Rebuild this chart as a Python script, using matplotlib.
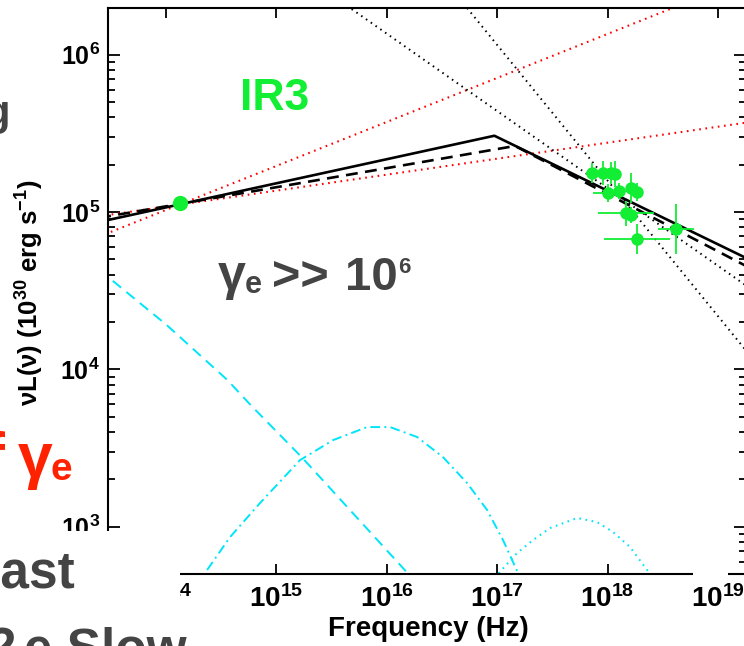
import numpy as np
import matplotlib.pyplot as plt
from matplotlib.patches import Rectangle
from matplotlib.ticker import LogLocator, NullLocator, NullFormatter

plt.rcParams['font.family'] = 'Liberation Sans'
plt.rcParams['font.weight'] = 'bold'
plt.rcParams['mathtext.fontset'] = 'custom'
plt.rcParams['mathtext.rm'] = 'Liberation Sans:bold'
plt.rcParams['mathtext.it'] = 'Liberation Sans:bold'
plt.rcParams['mathtext.bf'] = 'Liberation Sans:bold'
plt.rcParams['mathtext.default'] = 'rm'

# --- modelos (log10 nu [Hz], log10 nuLnu [1e30 erg/s]) ---
solid_lognu = [13.40, 16.976, 19.30]
solid_logL = [4.937, 5.485, 4.692]

dashed_lognu = [13.40, 17.163, 19.30]
dashed_logL = [4.963, 5.420, 4.640]

red_flat_lognu = [13.40, 19.30]
red_flat_logL = [4.973, 5.573]
red_steep_lognu = [13.40, 19.30]
red_steep_logL = [4.844, 6.496]

blk_dot1_lognu = [15.50, 19.30]
blk_dot1_logL = [6.381, 4.510]
blk_dot2_lognu = [16.60, 19.30]
blk_dot2_logL = [6.408, 4.079]

cyan_dash_lognu = [13.40, 13.48, 14.01, 14.56, 14.77, 15.24, 15.70, 16.19, 16.30]
cyan_dash_logL = [4.633, 4.587, 4.282, 3.932, 3.773, 3.436, 3.082, 2.705, 2.617]

cyan_dashdot_lognu = [14.27, 14.357, 14.584, 14.855, 15.217, 15.516, 15.824, 16.032,
                      16.276, 16.511, 16.729, 16.910, 17.054, 17.190, 17.25]
cyan_dashdot_logL = [2.62, 2.705, 2.934, 3.150, 3.423, 3.550, 3.633, 3.633,
                     3.570, 3.442, 3.277, 3.106, 2.915, 2.705, 2.61]

cyan_dot_lognu = [16.90, 17.009, 17.181, 17.326, 17.480, 17.724, 17.905, 18.050, 18.204, 18.385, 18.48]
cyan_dot_logL = [2.615, 2.699, 2.832, 2.915, 2.991, 3.055, 3.029, 2.966, 2.870, 2.699, 2.61]

# --- dados IR3 ---
ir_lognu = [14.131]
ir_logL = [5.057]

xr_lognu = [17.857, 17.962, 18.029, 18.068, 18.107, 18.007, 18.213, 18.264, 18.167, 18.210, 18.264, 18.620]
xr_logL = [5.250, 5.250, 5.246, 5.242, 5.135, 5.123, 5.151, 5.129, 4.992, 4.981, 4.826, 4.892]
xr_dnu = [0.05, 0.06, 0.06, 0.05, 0.08, 0.136, 0.05, 0.05, 0.25, 0.06, 0.30, 0.16]
xr_dL = [0.064, 0.076, 0.07, 0.08, 0.05, 0.058, 0.095, 0.058, 0.08, 0.05, 0.095, 0.16]

W, H = 744, 646
verde = '#11EE33'
ciano = '#00E5FA'
cinza = '#444444'
vermelho = '#FF2200'

fig = plt.figure(figsize=(W / 100, H / 100), dpi=100)
ax = fig.add_axes([108.3 / W, 1 - 574 / H, (746 - 108.3) / W, (574 - 8) / H])


def p(lognu, logL):
    return 10 ** np.asarray(lognu), 10 ** np.asarray(logL)


pontilhado = (0, (0.8, 2.2))

ax.plot(*p(cyan_dash_lognu, cyan_dash_logL), color=ciano, lw=1.4, ls=(0, (5.5, 3.5)))
ax.plot(*p(cyan_dashdot_lognu, cyan_dashdot_logL), color=ciano, lw=1.4, ls=(0, (5, 2.2, 1, 2.2)))
ax.plot(*p(cyan_dot_lognu, cyan_dot_logL), color=ciano, lw=1.5, ls=pontilhado)

ax.plot(*p(red_flat_lognu, red_flat_logL), color='red', lw=1.5, ls=pontilhado)
ax.plot(*p(red_steep_lognu, red_steep_logL), color='red', lw=1.5, ls=pontilhado)
ax.plot(*p(blk_dot1_lognu, blk_dot1_logL), color='black', lw=1.4, ls=pontilhado)
ax.plot(*p(blk_dot2_lognu, blk_dot2_logL), color='black', lw=1.4, ls=pontilhado)

ax.plot(*p(dashed_lognu, dashed_logL), color='black', lw=1.9, ls=(0, (4.5, 2.8)))
ax.plot(*p(solid_lognu, solid_logL), color='black', lw=1.9)

# barras de erro em dex -> convertidas pra escala linear
xn, yl = p(xr_lognu, xr_logL)
dn = np.asarray(xr_dnu)
dl = np.asarray(xr_dL)
xerr = [xn - xn / 10 ** dn, xn * 10 ** dn - xn]
yerr = [yl - yl / 10 ** dl, yl * 10 ** dl - yl]
ax.errorbar(xn, yl, xerr=xerr, yerr=yerr, fmt='o', color=verde, ms=8,
            elinewidth=1.3, capsize=0, mec=verde)
ax.plot(*p(ir_lognu, ir_logL), 'o', color=verde, ms=10)

ax.set_xscale('log')
ax.set_yscale('log')
ax.set_xlim(10 ** 13.482, 10 ** 19.253)
ax.set_ylim(10 ** 2.699, 10 ** 6.297)

ax.xaxis.set_major_locator(LogLocator(base=10, numticks=20))
ax.xaxis.set_minor_locator(NullLocator())
ax.yaxis.set_major_locator(LogLocator(base=10, numticks=20))
ax.yaxis.set_minor_locator(LogLocator(base=10, subs=np.arange(2, 10), numticks=20))
ax.yaxis.set_minor_formatter(NullFormatter())

ax.tick_params(which='both', direction='in', top=True, right=True, width=1.3, colors='black')
ax.tick_params(axis='x', which='major', length=7.2, labelsize=20, pad=8)
ax.tick_params(axis='y', which='major', length=8.6, labelsize=18, pad=6)
ax.tick_params(axis='y', which='minor', length=5)
for s in ax.spines.values():
    s.set_linewidth(1.5)

ax.set_xlabel('Frequency (Hz)', fontsize=20, fontweight='bold')
ax.xaxis.set_label_coords((428 - 108.3) / 637.7, (574 - 616) / 566)
ax.set_ylabel('νL(ν) (10$^{30}$ erg s$^{-1}$)', fontsize=18.5, fontweight='bold')
ax.yaxis.set_label_coords((46 - 108.3) / 637.7, (574 - 293) / 566)

# faixas brancas do slide por cima do grafico
fig.add_artist(Rectangle((0, 0), 180 / W, (H - 531) / H, transform=fig.transFigure,
                         facecolor='white', edgecolor='none', zorder=10))
fig.add_artist(Rectangle((693 / W, (H - 581) / H), 35 / W, 21 / H, transform=fig.transFigure,
                         facecolor='white', edgecolor='none', zorder=10))


def txt(px, py, s, size, color, **kw):
    fig.text(px / W, 1 - py / H, s, fontsize=size, color=color, fontweight='bold',
             va='baseline', zorder=11, **kw)


txt(240, 110, 'IR3', 32, verde)

txt(218, 290, 'γ', 36, cinza)
txt(245, 293, 'e', 22, cinza)
txt(272, 290, '>>', 35, cinza)
txt(345, 290, '10', 34, cinza)
txt(398, 273, '6', 16, cinza)

txt(5, 477, 'f', 45, vermelho, ha='right')
txt(18, 477, 'γ', 45, vermelho)
txt(51, 480, 'e', 28, vermelho)

txt(10, 125, 'g', 30, cinza, ha='right')
txt(75, 587, 'Fast', 37, cinza, ha='right')
txt(16, 664, '2', 37, cinza, ha='right')
txt(24, 664, 'e Slow', 37, cinza)

fig.savefig('out.png', dpi=100)
